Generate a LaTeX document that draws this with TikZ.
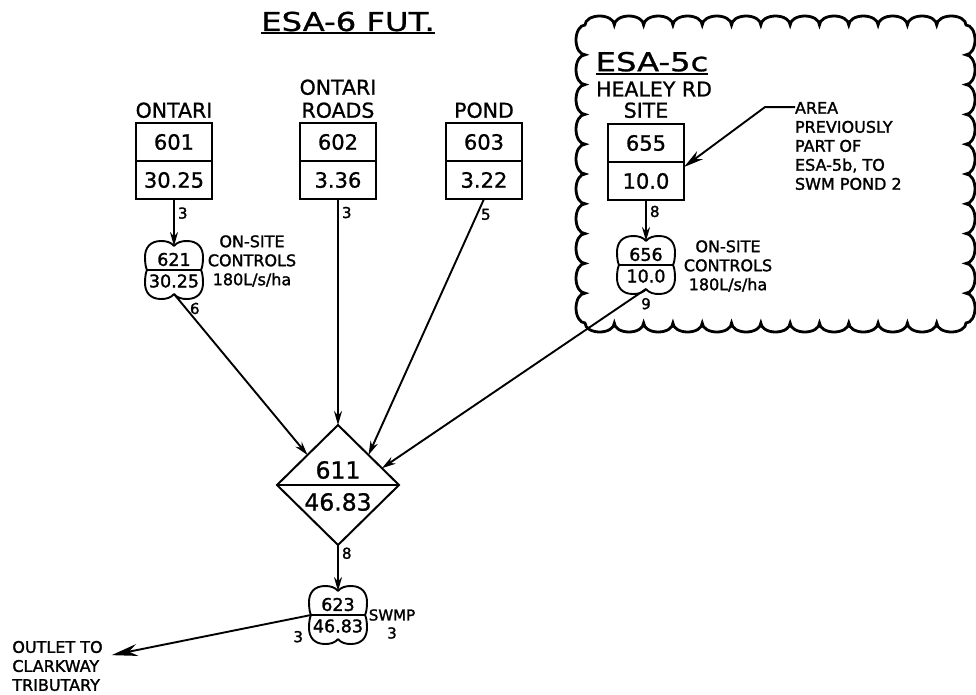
\documentclass[tikz,border=0pt]{standalone}
\usepackage{fontspec}
\setmainfont{DejaVu Sans}[FakeBold=1]
\usetikzlibrary{shapes.geometric, arrows.meta, positioning, calc}

\begin{document}
\begin{tikzpicture}[x=1pt, y=-1pt,
every node/.style={inner sep=0pt, outer sep=0pt},
idbox/.style={rectangle, draw, line width=2pt, minimum width=76pt,
minimum height=38pt, font=\fontsize{21}{24}\selectfont},
grplabel/.style={align=center, font=\fontsize{20.5}{23}\selectfont},
bigtitle/.style={font=\fontsize{26}{30}\selectfont\addfontfeature{FakeStretch=1.24}},
note/.style={font=\fontsize{16}{19}\selectfont\addfontfeature{FakeBold=1.6}},
lbl/.style={font=\fontsize{15}{18}\selectfont\addfontfeature{FakeBold=1.6}, inner sep=4pt},
flow/.style={line width=1.9pt, -{Stealth[length=14pt, width=8pt]}},
leader/.style={line width=1.9pt, -{Stealth[length=20pt, width=10pt]}},
outarrow/.style={line width=1.9pt, -{Stealth[length=26pt, width=12pt]}},
uline/.style={line width=2pt},
cloudline/.style={line width=2.8pt},
pondbox/.style={minimum width=54pt, minimum height=48pt},
pics/pond/.style 2 args={code={
  \node[pondbox] (-c) {};
  \foreach \sx/\sy in {1/1,-1/1,1/-1,-1/-1}
    \draw[line width=1.9pt, xscale=\sx, yscale=\sy] (0,-24)
      .. controls (-3,-28) and (-8,-29) .. (-13,-29)
      .. controls (-24,-29) and (-29,-22) .. (-29,-13)
      .. controls (-29,-6) and (-28,-2) .. (-27,0);
  \draw[line width=1.9pt] (-27,0) -- (27,0);
  \node[font=\fontsize{17.5}{20}\selectfont\addfontfeature{FakeBold=1.6}] at (0,-10.5) {#1};
  \node[font=\fontsize{17.5}{20}\selectfont\addfontfeature{FakeBold=1.6}] at (0,11) {#2};
}}]
\useasboundingbox (0,0) rectangle (976,694);

% cloud round ESA-5c
\draw[cloudline] (585,25)
  \foreach \i in {1,...,13} { arc[start angle=180, end angle=360, x radius=14.654, y radius=9] }
  \foreach \i in {1,...,10} { arc[start angle=270, end angle=450, x radius=9, y radius=14.9] }
  \foreach \i in {1,...,13} { arc[start angle=0, end angle=180, x radius=14.654, y radius=9] }
  \foreach \i in {1,...,10} { arc[start angle=90, end angle=270, x radius=9, y radius=14.9] }
  -- cycle;

% titles
\node[bigtitle] (t6) at (348,21.5) {ESA-6 FUT.};
\draw[uline] ([yshift=-2pt]t6.south west) -- ([yshift=-2pt]t6.south east);

% catchment boxes
\node[idbox] (b601) at (174,142) {601};
\node[idbox, below=0pt of b601] (a601) {30.25};
\node[idbox] (b602) at (338,142) {602};
\node[idbox, below=0pt of b602] (a602) {3.36};
\node[idbox] (b603) at (484,142) {603};
\node[idbox, below=0pt of b603] (a603) {3.22};
\node[idbox] (b655) at (646,143) {655};
\node[idbox, below=0pt of b655] (a655) {10.0};

\node[grplabel, above=5pt of b601] (l601) {ONTARI};
\node[grplabel, above=5pt of b602] (l602) {ONTARI\\ROADS};
\node[grplabel, above=5pt of b603] (l603) {POND};
\node[grplabel, above=6pt of b655] (l655b) {SITE};
\node[grplabel, above=6pt of l655b, xshift=8pt] (l655a) {HEALEY RD};
\node[bigtitle, above=10pt of l655a, xshift=-2pt] (t5c) {ESA-5c};
\draw[uline] ([yshift=-2pt]t5c.south west) -- ([yshift=-2pt]t5c.south east);

% on-site controls and pond
\pic (p621) at (174,270) {pond={621}{30.25}};
\pic (p656) at (646,265) {pond={656}{10.0}};
\pic (p623) at (338,615) {pond={623}{46.83}};
\node[note, align=center] (c621) at (252,261) {ON-SITE\\CONTROLS\\180L/s/ha};
\node[note, align=center] (c656) at (728,266) {ON-SITE\\CONTROLS\\180L/s/ha};
\node[lbl, inner sep=0pt, align=center] (swmp) at (392,624) {SWMP\\3};

% junction
\node[diamond, draw, line width=2pt, minimum width=122pt, minimum height=120pt] (d611) at (338,485) {};
\draw[line width=2pt] (d611.west) -- (d611.east);
\node[font=\fontsize{23.5}{26}\selectfont] at (338,470) {611};
\node[font=\fontsize{23.5}{26}\selectfont] at (338,502) {46.83};

% notes
\node[note, anchor=west, align=left] (areanote) at (795,146)
  {AREA\\PREVIOUSLY\\PART OF\\ESA-5b, TO\\SWM POND 2};
\coordinate (kink) at ([xshift=-30pt, yshift=-5pt]areanote.north west);
\node[note, align=left, inner xsep=9pt] (outlet) at (57.5,666)
  {OUTLET TO\\CLARKWAY\\TRIBUTARY};

% flow lines
\draw[flow] (a601.south) -- node[lbl, right, pos=0.3] {3} (p621-c.north);
\draw[flow] (a602.south) -- node[lbl, right, pos=0.06] {3} (d611.north);
\draw[flow] (a603.south) -- node[lbl, right, pos=0.06] {5} (d611.north east);
\draw[flow] (a655.south) -- node[lbl, right, pos=0.28] {8} (p656-c.north);
\draw[flow] (p621-c.south) -- node[lbl, right, pos=0.09] {6} (d611.north west);
\draw[flow] (p656-c.south) -- node[lbl, pos=0, below=5pt] {9}
  ($(d611.north)!0.72!(d611.east)$);
\draw[flow] (d611.south) -- node[lbl, right, pos=0.18] {8} (p623-c.north);
\draw[outarrow] (p623-c.west) -- node[lbl, pos=0, below left=12pt and 4pt] {3} (outlet);
\draw[leader] ([yshift=-5pt]areanote.north west) -- (kink) -- ([yshift=-5pt]a655.north east);
\end{tikzpicture}
\end{document}
